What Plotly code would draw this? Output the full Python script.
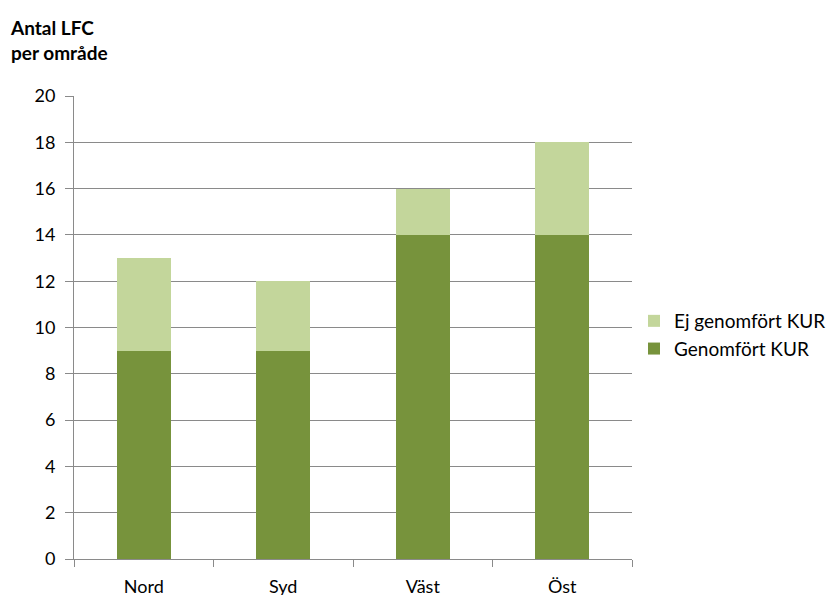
import plotly.graph_objects as go

categories = ["Nord", "Syd", "Väst", "Öst"]
genomfort = [9, 9, 14, 14]
ej_genomfort = [4, 3, 2, 4]
y_ticks = [0, 2, 4, 6, 8, 10, 12, 14, 16, 18, 20]

dark = "#77933C"
light = "#C3D69B"
grid = "#8A8A8A"
font = "Lato, 'Open Sans', sans-serif"

fig = go.Figure()
fig.add_trace(go.Bar(x=categories, y=genomfort, name="Genomfört KUR",
                     marker=dict(color=dark, line=dict(width=0)), legendgroup="a"))
fig.add_trace(go.Bar(x=categories, y=ej_genomfort, name="Ej genomfört KUR",
                     marker=dict(color=light, line=dict(width=0)), legendgroup="b"))

fig.update_layout(
    barmode="stack",
    bargap=0.61,
    width=838, height=595,
    margin=dict(l=66, r=214, t=88, b=44, autoexpand=False),
    plot_bgcolor="white", paper_bgcolor="white",
    font=dict(family=font, size=18, color="#000000"),
    legend=dict(xref="container", yref="container", x=626 / 838, y=1 - 327 / 595,
                xanchor="left", yanchor="middle", traceorder="reversed",
                tracegroupgap=3, font=dict(size=19, color="#000000")),
    showlegend=True,
)
fig.update_yaxes(range=[0, 20], tickvals=y_ticks, showgrid=True, gridcolor=grid, gridwidth=1,
                 showline=True, linecolor=grid, linewidth=1, ticks="outside", ticklen=8,
                 tickcolor=grid, zeroline=False, tickfont=dict(size=18),
                 ticklabelstandoff=6)
fig.update_xaxes(showline=True, linecolor=grid, linewidth=1, ticks="outside", ticklen=7,
                 tickcolor=grid, tickson="boundaries", tickfont=dict(size=18),
                 ticklabelstandoff=11)

fig.add_annotation(text="<b>Antal LFC<br>per område</b>", xref="paper", yref="paper",
                   x=(8 - 74) / 558, y=(559 - 14) / 463, xanchor="left", yanchor="top",
                   showarrow=False, align="left", font=dict(size=19, color="#000000"))

fig.write_html("out.html")
